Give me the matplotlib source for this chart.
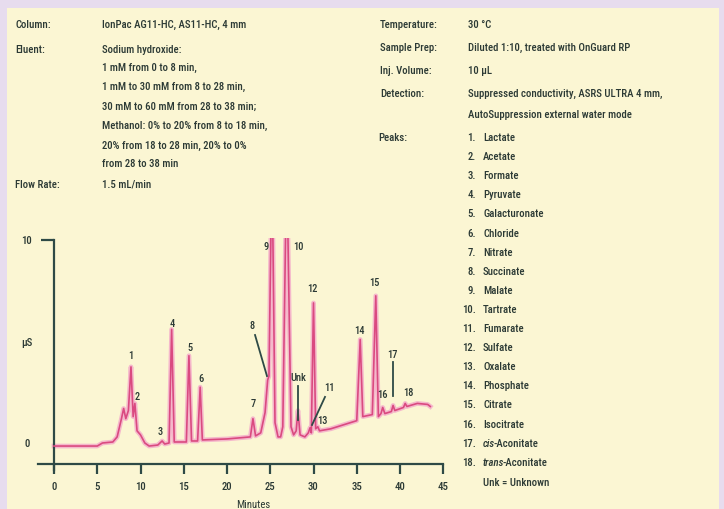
import matplotlib
matplotlib.use("Agg")
import matplotlib.pyplot as plt
from matplotlib import font_manager
from matplotlib.patches import Rectangle
from matplotlib.text import Annotation

W, H = 724, 509
TXT = "#2C3A35"
AX = "#2E4A46"


def first_font(names):
    for n in names:
        try:
            font_manager.findfont(font_manager.FontProperties(family=n),
                                  fallback_to_default=False)
            return n
        except Exception:
            continue
    return "DejaVu Sans"


FAMILY = first_font(["Liberation Sans Narrow", "DejaVu Sans Condensed", "Roboto Condensed",
                     "Open Sans Condensed", "Liberation Sans"])
plt.rcParams["font.family"] = [FAMILY, "DejaVu Sans"]
plt.rcParams["font.weight"] = "medium"

# ---- chromatogram trace (minutes, µS) ----
time_min = [0.0, 5.0, 5.6, 6.8, 7.3, 7.8, 8.05, 8.3, 8.6, 8.9, 9.15, 9.35, 9.6, 10.0, 10.5,
            11.0, 12.0, 12.5, 12.8, 13.3, 13.6, 13.9, 15.3, 15.6, 15.9, 16.6, 16.9, 17.15,
            20.0, 22.7, 23.0, 23.3, 23.9, 24.4, 24.7, 24.85, 25.2, 25.55, 25.9, 26.2,
            26.45, 26.9, 27.4, 27.7, 28.0, 28.2, 28.45, 29.0, 29.4, 29.6, 29.75, 30.0,
            30.25, 30.5, 30.7, 32.0, 35.0, 35.4, 35.7, 36.8, 37.2, 37.5, 37.8, 38.0,
            38.25, 39.0, 39.2, 39.4, 40.4, 40.6, 40.8, 42.0, 43.2, 43.5]
signal_us = [-0.15, -0.15, 0.0, 0.05, 0.3, 1.2, 1.7, 1.2, 1.6, 3.75, 1.3, 1.95, 0.6, 0.4, 0.0,
             -0.15, -0.1, 0.1, -0.05, 0.0, 5.6, 0.05, 0.05, 4.3, 0.1, 0.1, 2.75, 0.15,
             0.2, 0.3, 1.2, 0.35, 0.5, 1.5, 3.1, 3.3, 14.0, 1.0, 0.3, 0.3,
             0.8, 14.0, 0.8, 0.4, 0.6, 1.6, 0.4, 0.3, 0.5, 0.75, 0.5, 6.9,
             0.7, 0.8, 0.6, 0.7, 1.1, 5.1, 1.3, 1.4, 7.25, 1.3, 1.45, 1.75,
             1.45, 1.55, 1.85, 1.6, 1.75, 1.95, 1.8, 1.95, 1.9, 1.8]

# ---- peak labels (text, time, signal) ----
peak_text = ["1", "2", "3", "4", "5", "6", "7", "8", "9", "10", "Unk", "11", "12", "13",
             "14", "15", "16", "17", "18"]
peak_x = [8.9, 9.6, 12.25, 13.64, 15.72, 17.0, 23.0, 22.9, 24.5, 28.2, 28.2, 31.8, 29.9, 31.0,
          35.3, 37.0, 38.0, 39.1, 41.0]
peak_y = [4.3, 2.27, 0.54, 5.86, 4.68, 3.15, 1.92, 5.76, 9.65, 9.65, 3.2, 2.7, 7.6, 1.08,
          5.5, 7.9, 2.36, 4.33, 2.46]

# leader lines: (x0, y0, x1, y1)
leaders = [(23.24, 5.32, 24.62, 3.3),
           (28.2, 2.8, 28.2, 1.13),
           (31.33, 2.27, 29.83, 0.89),
           (39.2, 4.0, 39.2, 2.3)]

x_ticks = [0, 5, 10, 15, 20, 25, 30, 35, 40, 45]

# ---- condition text ----
left_labels = ["Column:", "Eluent:", "Flow Rate:"]
left_label_y = [25, 50, 185]
left_values = ["IonPac AG11-HC, AS11-HC, 4 mm",
               "Sodium hydroxide:",
               "1 mM from 0 to 8 min,",
               "1 mM to 30 mM from 8 to 28 min,",
               "30 mM to 60 mM from 28 to 38 min;",
               "Methanol: 0% to 20% from 8 to 18 min,",
               "20% from 18 to 28 min, 20% to 0%",
               "from 28 to 38 min",
               "1.5 mL/min"]
left_value_y = [25, 50, 68, 87, 107, 126, 146, 164, 185]

right_labels = ["Temperature:", "Sample Prep:", "Inj. Volume:", "Detection:"]
right_label_y = [25, 48, 71, 94]
right_values = ["30 °C", "Diluted 1:10, treated with OnGuard RP", "10 µL",
                "Suppressed conductivity, ASRS ULTRA 4 mm,",
                "AutoSuppression external water mode"]
right_value_y = [25, 48, 71, 94, 115]

peak_names = ["Lactate", "Acetate", "Formate", "Pyruvate", "Galacturonate", "Chloride",
              "Nitrate", "Succinate", "Malate", "Tartrate", "Fumarate", "Sulfate",
              "Oxalate", "Phosphate", "Citrate", "Isocitrate", "cis|-Aconitate",
              "trans|-Aconitate"]

fig = plt.figure(figsize=(W / 100, H / 100), dpi=100)
fig.patch.set_facecolor("#E7DCEE")
fig.add_artist(Rectangle((7 / W, 0), (719 - 7) / W, (H - 8) / H,
                         transform=fig.transFigure, facecolor="#FBF6D3",
                         edgecolor="none", zorder=0))

# size the text so the longest detection line spans about 192 px
renderer = fig.canvas.get_renderer()
probe = fig.text(0, 0, right_values[3], fontsize=10)
wpx = probe.get_window_extent(renderer).width
probe.remove()
FS = max(6.6, min(8.4, 10 * 194 / wpx))


def ftext(x, y, s, **kw):
    return fig.text(x / W, 1 - y / H, s, va="center", color=TXT, fontsize=FS, **kw)


for s, y in zip(left_labels, left_label_y):
    ftext(15, y, s)
for s, y in zip(left_values, left_value_y):
    ftext(102, y, s)
for s, y in zip(right_labels, right_label_y):
    ftext(380, y, s)
for s, y in zip(right_values, right_value_y):
    ftext(468, y, s)

ftext(378, 138, "Peaks:")
for i, name in enumerate(peak_names):
    y = 138 + 19.1 * i
    ftext(476, y, f"{i + 1}.", ha="right")
    if "|" in name:
        it, rest = name.split("|")
        t = ftext(483, y, it, style="italic")
        fig.add_artist(Annotation(rest, xy=(1, 0), xycoords=t, xytext=(-1.2, 0),
                                  textcoords="offset points", va="bottom", ha="left",
                                  color=TXT, fontsize=FS, annotation_clip=False))
    else:
        ftext(483, y, name)
ftext(483, 483, "Unk = Unknown")

# ---- chromatogram axes ----
left_px, right_px, top_px, bot_px = 30, 450, 238, 500
ax = fig.add_axes([left_px / W, 1 - bot_px / H, (right_px - left_px) / W, (bot_px - top_px) / H])
ax.set_facecolor("none")
ppm, ppu = 8.65, 20.3  # pixels per minute / per µS
ax.set_xlim((left_px - 54) / ppm, (right_px - 54) / ppm)
ax.set_ylim((443 - bot_px) / ppu, (443 - top_px) / ppu)

ax.plot(time_min, signal_us, color="#F5B8CB", lw=3.4, solid_joinstyle="round", zorder=2)
ax.plot(time_min, signal_us, color="#DA4A80", lw=1.2, solid_joinstyle="round", zorder=3)

for s, x, y in zip(peak_text, peak_x, peak_y):
    ax.text(x, y, s, ha="center", va="center", color=TXT, fontsize=FS - 0.3, clip_on=False)
for x0, y0, x1, y1 in leaders:
    ax.plot([x0, x1], [y0, y1], color=AX, lw=1.3, clip_on=False, zorder=4)

for side in ("top", "right"):
    ax.spines[side].set_visible(False)
ax.spines["left"].set_position(("data", 0))
ax.spines["left"].set_bounds(-1.35, 10)
ax.spines["bottom"].set_position(("data", -1.03))
ax.spines["bottom"].set_bounds(-1.85, 45)
for side in ("left", "bottom"):
    ax.spines[side].set_color(AX)
    ax.spines[side].set_linewidth(1.6)

ax.set_xticks(x_ticks)
ax.set_xticklabels([str(v) for v in x_ticks])
ax.tick_params(axis="x", direction="out", length=7, width=1.6, color=AX,
               labelcolor=TXT, labelsize=FS, pad=6)
ax.set_yticks([0, 5, 10])
ax.set_yticklabels(["0", "µS", "10"])
ax.tick_params(axis="y", direction="out", length=9.5, width=1.6, color=AX,
               labelcolor=TXT, labelsize=FS, pad=10)
for lab in ax.get_yticklabels():
    lab.set_horizontalalignment("center")
yt = ax.yaxis.get_major_ticks()
yt[0].tick1line.set_visible(False)
yt[1].tick1line.set_visible(False)

ax.set_xlabel("Minutes", color=TXT, fontsize=FS)
ax.xaxis.set_label_coords((253 - left_px) / (right_px - left_px), 0.0)
ax.xaxis.label.set_va("top")

fig.savefig("out.png", dpi=100, facecolor=fig.get_facecolor())
